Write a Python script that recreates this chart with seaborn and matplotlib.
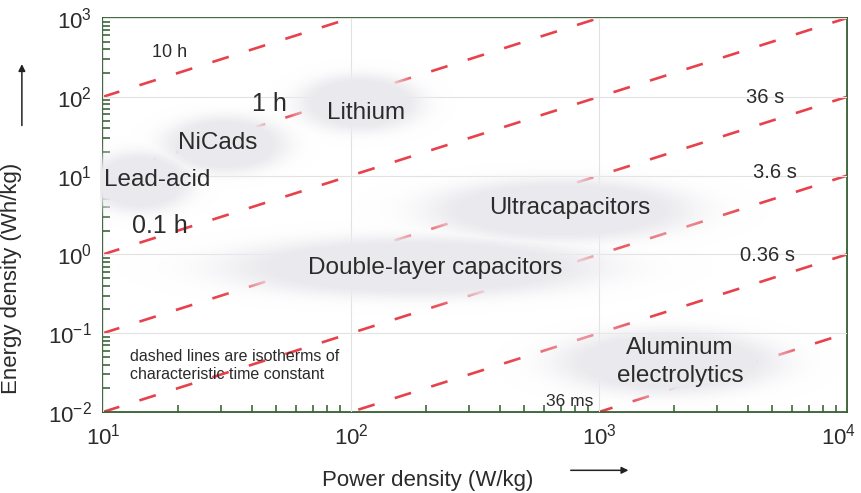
import numpy as np
import pandas as pd
import matplotlib
matplotlib.use("Agg")
import matplotlib.pyplot as plt
import matplotlib.transforms as mtransforms
from matplotlib.colors import LinearSegmentedColormap
from matplotlib.ticker import LogLocator, LogFormatterMathtext, NullFormatter
import seaborn as sns

# Characteristic time constants (isotherms E = P * t), t in hours
time_labels = ["10 h", "1 h", "0.1 h", "36 s", "3.6 s", "0.36 s", "36 ms"]
time_hours = [10, 1, 0.1, 0.01, 0.001, 1e-4, 1e-5]
time_label_x = [18.6, 47, 17, 4670, 5130, 4800, 764]
time_label_y = [360, 80, 2.3, 97, 11.1, 0.98, 0.0135]
time_label_size = [13, 18, 18, 14.5, 14.5, 14.5, 12.5]

# Storage technologies: label positions and region extents (log10 centre, half-width in decades)
tech_names = ["Lithium", "NiCads", "Lead-acid", "Ultracapacitors",
              "Double-layer capacitors", "Aluminum\nelectrolytics"]
tech_x = [115, 29, 10.1, 764, 218, 2120]
tech_y = [62, 26, 8.8, 3.9, 0.67, 0.043]
tech_ha = ["center", "center", "left", "center", "center", "center"]
region_logx = [2.036, 1.492, 1.149, 2.843, 2.258, 3.278]
region_logy = [1.921, 1.396, 0.919, 0.563, -0.160, -1.365]
region_sx = [0.262, 0.262, 0.222, 0.565, 0.806, 0.476]
region_sy = [0.381, 0.381, 0.406, 0.419, 0.406, 0.431]

power_range = [10, 1e4]
energy_range = [1e-2, 1e3]

sns.set_style("white")
plt.rcParams["font.family"] = ["Liberation Sans", "DejaVu Sans"]
plt.rcParams["mathtext.fontset"] = "custom"
plt.rcParams["mathtext.rm"] = "Liberation Sans"
plt.rcParams["mathtext.it"] = "Liberation Sans"
plt.rcParams["mathtext.default"] = "regular"
plt.rcParams["xtick.bottom"] = True
plt.rcParams["ytick.left"] = True
plt.rcParams["xtick.minor.visible"] = True
plt.rcParams["ytick.minor.visible"] = True

frame_color = "#2f5a2c"
text_color = "#2b2b2b"
dash_color = "#e8414b"

fig = plt.figure(figsize=(8.61, 4.93), dpi=100)
ax = fig.add_axes([0.1196, 0.1643, 0.8641, 0.7992])
ax.set_xscale("log")
ax.set_yscale("log")

# isotherm lines
p = np.array(power_range)
for t in time_hours:
    df = pd.DataFrame({"power": p, "energy": p * t})
    sns.lineplot(data=df, x="power", y="energy", ax=ax, color=dash_color,
                 linewidth=1.9, linestyle=(0, (6.5, 8)), zorder=2)

# soft shaded regions for each technology, laid over the isotherms
lx = np.linspace(0.99, 4, 700)
ly = np.linspace(-2, 3, 600)
LX, LY = np.meshgrid(lx, ly)
field = np.zeros_like(LX)
for cx, cy, sx, sy in zip(region_logx, region_logy, region_sx, region_sy):
    r2 = ((LX - cx) / sx) ** 2 + ((LY - cy) / sy) ** 2
    field = np.maximum(field, np.exp(-r2 ** 2.2))
field = np.clip(field * 1.3, 0, 1)
shade = LinearSegmentedColormap.from_list(
    "shade", [(0.94, 0.94, 0.955, 0.0), (0.918, 0.918, 0.935, 1.0)])
mesh = ax.pcolormesh(10 ** lx, 10 ** ly, field, cmap=shade, vmin=0, vmax=1,
                     shading="auto", zorder=3)
mesh.set_clip_on(False)

ax.set_xlim(*power_range)
ax.set_ylim(*energy_range)

for lab, x, y, fs in zip(time_labels, time_label_x, time_label_y, time_label_size):
    ax.text(x, y, lab, ha="center", va="center", fontsize=fs, color=text_color, zorder=5)

for name, x, y, ha in zip(tech_names, tech_x, tech_y, tech_ha):
    ax.text(x, y, name, ha=ha, va="center", fontsize=17.5, color=text_color,
            linespacing=1.35, zorder=5)

ax.text(12.8, 0.039, "dashed lines are isotherms of\ncharacteristic time constant",
        ha="left", va="center", fontsize=11.5, color=text_color, linespacing=1.3, zorder=5)

# grid, ticks, frame
ax.grid(True, which="major", color="#e2e2e2", linewidth=0.8)
ax.grid(False, which="minor")
for s in ax.spines.values():
    s.set_color(frame_color)
    s.set_linewidth(1.3)
    s.set_zorder(2.5)
ax.xaxis.set_major_locator(LogLocator(base=10, numticks=10))
ax.yaxis.set_major_locator(LogLocator(base=10, numticks=10))
ax.xaxis.set_minor_locator(LogLocator(base=10, subs=np.arange(2, 10), numticks=20))
ax.yaxis.set_minor_locator(LogLocator(base=10, subs=np.arange(2, 10), numticks=20))
ax.xaxis.set_major_formatter(LogFormatterMathtext())
ax.yaxis.set_major_formatter(LogFormatterMathtext())
ax.xaxis.set_minor_formatter(NullFormatter())
ax.yaxis.set_minor_formatter(NullFormatter())
ax.tick_params(which="major", direction="in", length=0, labelsize=16,
               labelcolor=text_color, pad=8, bottom=True, left=True, top=False, right=False)
ax.xaxis.set_tick_params(which="minor", bottom=True, top=False, direction="in",
                         length=5, width=1.1, color=frame_color)
ax.yaxis.set_tick_params(which="minor", left=True, right=False, direction="in",
                         length=5, width=1.1, color=frame_color)
ax.set_axisbelow(False)
ax.xaxis.set_zorder(2.6)
ax.yaxis.set_zorder(2.6)

ax.set_xlabel("Power density (W/kg)", fontsize=16, color=text_color)
ax.set_ylabel("Energy density (Wh/kg)", fontsize=16, color=text_color)
ax.xaxis.set_label_coords(0.437, -0.148)
ax.yaxis.set_label_coords(-0.109, 0.34)

arrow = dict(arrowstyle="-|>", color="#222222", lw=1.1, mutation_scale=10)
ax.annotate("", xy=(0.71, -0.148), xytext=(0.625, -0.148),
            xycoords="axes fraction", textcoords="axes fraction", arrowprops=arrow)
ax.annotate("", xy=(-0.109, 0.89), xytext=(-0.109, 0.72),
            xycoords="axes fraction", textcoords="axes fraction", arrowprops=arrow)

# nudge the corner tick labels apart
fig.canvas.draw()
xticks = ax.xaxis.get_major_ticks()
xt0 = xticks[0].label1
xt0.set_transform(xt0.get_transform() +
                  mtransforms.ScaledTranslation(0, -7 / 100, fig.dpi_scale_trans))
xt_last = [t for t in xticks if abs(t.get_loc() - power_range[1]) < 1][0].label1
xt_last.set_transform(xt_last.get_transform() +
                      mtransforms.ScaledTranslation(-8 / 100, 0, fig.dpi_scale_trans))
yt0 = ax.yaxis.get_major_ticks()[0].label1
yt0.set_transform(yt0.get_transform() +
                  mtransforms.ScaledTranslation(0, 6 / 100, fig.dpi_scale_trans))

fig.savefig("out.png", dpi=100)
